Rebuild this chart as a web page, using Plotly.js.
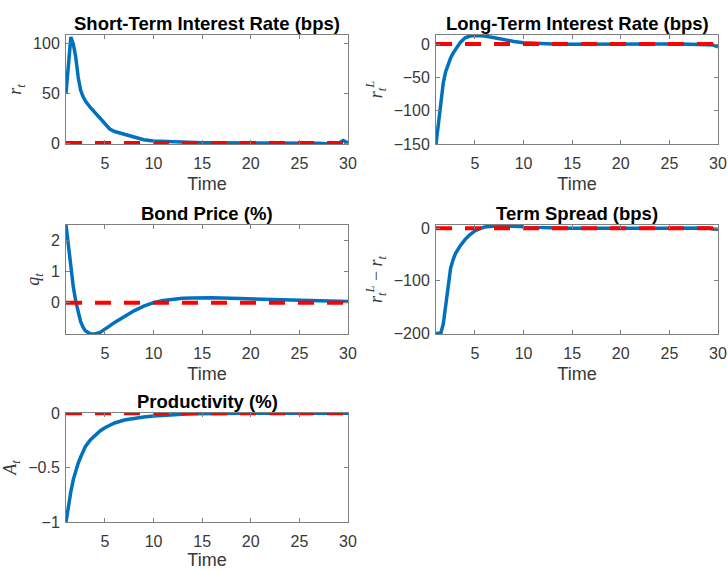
<!DOCTYPE html>
<html>
<head>
<meta charset="utf-8">
<script src="https://cdn.plot.ly/plotly-3.0.1.min.js"></script>
<style>html,body{margin:0;padding:0;background:#fff;}#chart{width:728px;height:570px;}</style>
</head>
<body>
<div id="chart"></div>
<script>
// Time grid (periods)
const time = [1, 1.25, 1.5, 1.75, 2, 2.25, 2.5, 2.75, 3, 3.5, 4, 4.5, 5, 5.5, 6, 7, 8, 9, 10, 11, 12, 13, 14, 15, 16, 18, 20, 22, 24, 26, 27, 28, 29, 29.5, 30];

// Short-term interest rate (bps)
const shortRate = [50, 84, 106, 99, 86, 66, 53, 46.5, 42, 35.5, 30, 24, 18.5, 14, 11.5, 8.7, 5.3, 3.2, 2.0, 1.5, 1.1, 0.7, 0.5, 0.3, 0.2, 0.1, 0, 0, 0, 0, -0.3, -1, -0.5, 2.5, 0];

// Long-term interest rate (bps)
const longRate = [-150, -117, -82, -58, -41, -30, -21, -14, -8, 2.5, 9.5, 12, 13, 13, 12, 9.5, 6.5, 4, 2, 1, 0.4, 0, -0.2, -0.3, -0.3, -0.2, -0.1, 0, 0, 0, 0, -0.5, -1, -1.5, -4];

// Bond price (%)
const bondPrice = [2.48, 1.77, 1.1, 0.51, 0.05, -0.33, -0.6, -0.78, -0.9, -0.99, -1.0, -0.95, -0.86, -0.74, -0.63, -0.43, -0.26, -0.11, 0.0, 0.07, 0.115, 0.14, 0.15, 0.155, 0.155, 0.14, 0.12, 0.1, 0.085, 0.07, 0.065, 0.06, 0.05, 0.045, 0.04];

// Term spread (bps)
const termSpread = [-200, -200, -199, -182, -145, -100, -76, -60, -48, -33, -21, -12, -5, -0.5, 2.5, 4.5, 5, 4, 2.8, 1.8, 1, 0.5, 0.2, 0, -0.2, -0.3, -0.2, -0.1, 0, 0, 0.3, 1, 0.5, -1.5, -2];

// Productivity (%)
const productivity = [-1, -0.85, -0.72, -0.61, -0.53, -0.46, -0.405, -0.35, -0.305, -0.245, -0.2, -0.163, -0.133, -0.108, -0.09, -0.063, -0.047, -0.035, -0.025, -0.018, -0.013, -0.009, -0.006, -0.004, -0.003, -0.001, 0, 0, 0, 0, 0, 0, 0, 0, 0];

// Steady-state reference line
const refTime = [1, 30];
const refLevel = [0, 0];

const panelTitles = ['Short-Term Interest Rate (bps)', 'Long-Term Interest Rate (bps)', 'Bond Price (%)', 'Term Spread (bps)', 'Productivity (%)'];
const yLabels = ['<i>r</i><sub><i>t</i></sub>', '<i>r</i><sub><i>t</i></sub><sup><i>L</i></sup>', '<i>q</i><sub><i>t</i></sub>', '<i>r</i><sub><i>t</i></sub><sup><i>L</i></sup> − <i>r</i><sub><i>t</i></sub>', '<i>A</i><sub><i>t</i></sub>'];
const xTicks = [5, 10, 15, 20, 25, 30];
const yTicks = [[0, 50, 100], [-150, -100, -50, 0], [0, 1, 2], [-200, -100, 0], [-1, -0.5, 0]];
const yTickText = [['0', '50', '100'], ['−150', '−100', '−50', '0'], ['0', '1', '2'], ['−200', '−100', '0'], ['−1', '−0.5', '0']];
const yRanges = [[-1, 108], [-150, 13.6], [-1.0, 2.48], [-201, 6.3], [-1, 0.002]];

const series = [shortRate, longRate, bondPrice, termSpread, productivity];

const W = 728, H = 570;
// pixel boxes [left, right, top, bottom]
const boxes = [[66, 348, 35, 144], [436, 718, 35, 144], [66, 348, 225, 334], [436, 718, 225, 334], [66, 348, 413, 522]];

const sans = 'Liberation Sans, Arial, Helvetica, sans-serif';
const serif = 'Liberation Serif, DejaVu Serif, serif';
const axisColor = '#808080';
const textColor = '#383838';

const traces = [];
const layout = {
  width: W, height: H,
  margin: {l: 0, r: 0, t: 0, b: 0},
  paper_bgcolor: '#ffffff', plot_bgcolor: '#ffffff',
  showlegend: false,
  annotations: []
};

for (let i = 0; i < 5; i++) {
  const sfx = i === 0 ? '' : String(i + 1);
  const xa = 'x' + sfx, ya = 'y' + sfx;
  traces.push({x: time, y: series[i], xaxis: xa, yaxis: ya, type: 'scatter', mode: 'lines',
    line: {color: '#0072BD', width: 3.5, shape: 'linear'}, hoverinfo: 'skip'});
  traces.push({x: refTime, y: refLevel, xaxis: xa, yaxis: ya, type: 'scatter', mode: 'lines',
    line: {color: '#FF0000', width: 4, dash: '16px,13px'}, hoverinfo: 'skip'});
  const b = boxes[i];
  const common = {
    showgrid: false, zeroline: false, showline: true, linecolor: axisColor, linewidth: 1,
    mirror: 'allticks', ticks: 'inside', ticklen: 4, tickcolor: axisColor, tickwidth: 1,
    tickfont: {family: sans, size: 16, color: textColor}
  };
  layout['xaxis' + sfx] = Object.assign({}, common, {
    domain: [b[0] / W, b[1] / W], anchor: ya, range: [1, 30], tickvals: xTicks, ticktext: xTicks.map(String),
    ticklabelstandoff: 5,
    title: {text: 'Time', font: {family: sans, size: 18, color: textColor}, standoff: 6}
  });
  layout['yaxis' + sfx] = Object.assign({}, common, {
    domain: [1 - b[3] / H, 1 - b[2] / H], anchor: xa, range: yRanges[i], tickvals: yTicks[i], ticktext: yTickText[i],
    ticklabelstandoff: 2,
    title: {text: yLabels[i], font: {family: serif, size: 18, color: textColor}, standoff: 6}
  });
  layout.annotations.push({
    text: '<b>' + panelTitles[i] + '</b>', xref: 'paper', yref: 'paper',
    x: (b[0] + b[1]) / 2 / W, y: 1 - (b[2] + 1) / H, xanchor: 'center', yanchor: 'bottom', showarrow: false,
    font: {family: sans, size: 18.5, color: '#000000'}
  });
}

Plotly.newPlot('chart', traces, layout, {staticPlot: true, displayModeBar: false});
</script>
</body>
</html>
